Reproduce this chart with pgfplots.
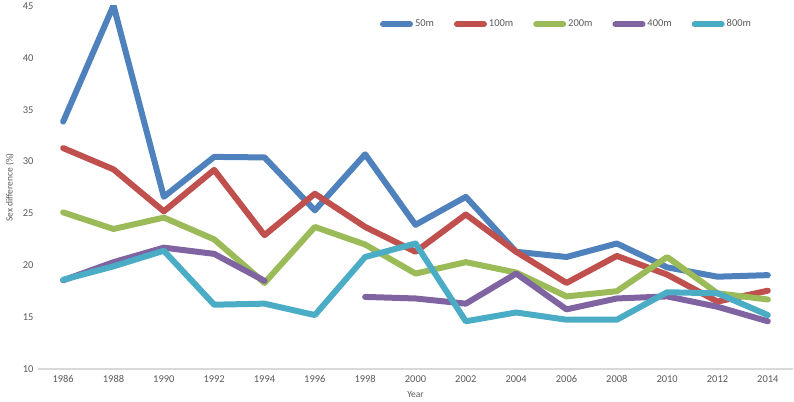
\documentclass[border=0pt]{standalone}
\usepackage{pgfplots}
\pgfplotsset{compat=1.18}
\usepackage{fontspec}
\setmainfont{Carlito}
\definecolor{c50}{HTML}{4F81BD}
\definecolor{c100}{HTML}{C0504D}
\definecolor{c200}{HTML}{9BBB59}
\definecolor{c400}{HTML}{8064A2}
\definecolor{c800}{HTML}{4BACC6}
\definecolor{txt}{HTML}{595959}
\definecolor{axl}{HTML}{D9D9D9}
\begin{document}
\begin{tikzpicture}
\begin{axis}[
  scale only axis,
  width=755bp, height=363bp,
  xmin=1985, xmax=2015,
  ymin=10, ymax=45,
  xtick={1986,1988,...,2014},
  ytick={10,15,...,45},
  /pgf/number format/assume math mode=true,
  xticklabel={\pgfmathprintnumber[1000 sep={}]{\tick}},
  axis x line=bottom,
  axis y line=left,
  y axis line style={draw=none},
  x axis line style={draw=axl, line width=1.2bp, -},
  major tick length=0pt,
  tick label style={font=\fontsize{10.5}{12}\selectfont, text=txt},
  yticklabel style={xshift=-1bp},
  xticklabel style={yshift=-3bp},
  xlabel={Year},
  ylabel={Sex difference (\%)},
  label style={font=\fontsize{9.5}{11}\selectfont, text=txt},
  xlabel style={yshift=-2bp},
  ylabel style={yshift=2bp},
  unbounded coords=jump,
  every axis plot/.append style={line width=6bp, line cap=round, line join=round, mark=none},
  legend columns=5,
  legend style={at={(rel axis cs:0.70,0.95)}, anchor=center, draw=none, fill=none,
    font=\fontsize{10.5}{12}\selectfont, text=txt,
    /tikz/every even column/.append style={column sep=18bp}},
  legend image code/.code={\draw[#1, line cap=round] (0bp,0bp) -- (27bp,0bp);},
]
\addplot[c50] coordinates {(1986,33.85) (1988,45.05) (1990,26.6) (1992,30.45) (1994,30.4) (1996,25.3) (1998,30.7) (2000,23.9) (2002,26.6) (2004,21.3) (2006,20.8) (2008,22.1) (2010,19.8) (2012,18.9) (2014,19.05)};
\addlegendentry{50m}
\addplot[c100] coordinates {(1986,31.3) (1988,29.25) (1990,25.2) (1992,29.2) (1994,22.9) (1996,26.9) (1998,23.7) (2000,21.3) (2002,24.9) (2004,21.3) (2006,18.3) (2008,20.9) (2010,19.1) (2012,16.5) (2014,17.55)};
\addlegendentry{100m}
\addplot[c200] coordinates {(1986,25.1) (1988,23.5) (1990,24.6) (1992,22.5) (1994,18.3) (1996,23.7) (1998,22.0) (2000,19.2) (2002,20.3) (2004,19.3) (2006,17.0) (2008,17.5) (2010,20.8) (2012,17.3) (2014,16.7)};
\addlegendentry{200m}
\addplot[c400] coordinates {(1986,18.55) (1988,20.3) (1990,21.7) (1992,21.1) (1994,18.5) (1996,nan) (1998,16.95) (2000,16.8) (2002,16.3) (2004,19.2) (2006,15.75) (2008,16.8) (2010,17.0) (2012,16.0) (2014,14.6)};
\addlegendentry{400m}
\addplot[c800] coordinates {(1986,18.6) (1988,19.9) (1990,21.4) (1992,16.2) (1994,16.3) (1996,15.2) (1998,20.8) (2000,22.1) (2002,14.6) (2004,15.45) (2006,14.75) (2008,14.75) (2010,17.4) (2012,17.3) (2014,15.2)};
\addlegendentry{800m}
\end{axis}
\pgfresetboundingbox
\path (current axis.south west) ++(-38bp,-33bp) rectangle ++(794bp,402bp);
\end{tikzpicture}
\end{document}
